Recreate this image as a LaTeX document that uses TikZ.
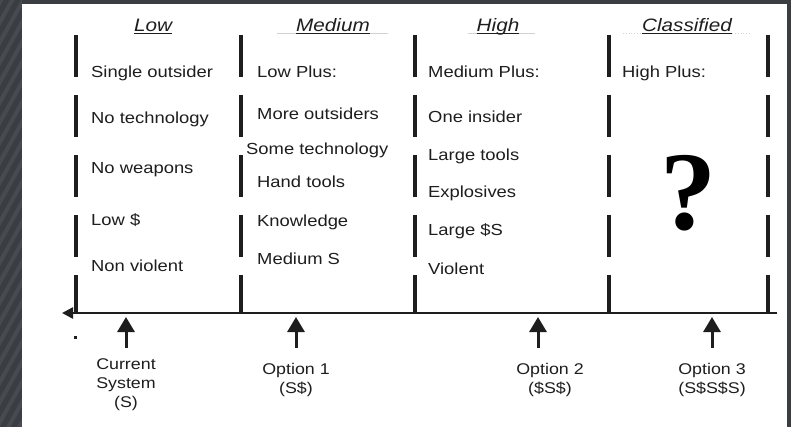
\documentclass[tikz,border=0pt]{standalone}
\usepackage{fontspec}
\setmainfont{Liberation Sans}
\newfontfamily\scanfont[FakeStretch=1.15]{Liberation Sans}
\newfontfamily\qfont{Liberation Serif}
\usetikzlibrary{arrows.meta}
\definecolor{frame}{RGB}{58, 61, 66}
\definecolor{ink}{RGB}{30, 30, 30}

\begin{document}
\begin{tikzpicture}[x=1pt, y=-1pt,
  item/.style={anchor=west, inner sep=0pt, text=ink, text height=11.5pt, text depth=3.5pt,
    font=\scanfont\fontsize{16}{18}\selectfont},
  head/.style={inner sep=0pt, text=ink, text height=12.5pt, text depth=0pt,
    font=\scanfont\itshape\fontsize{18}{20}\selectfont},
  optlabel/.style={align=center, inner sep=0pt, text=ink, font=\scanfont\fontsize{15.5}{19}\selectfont},
  divider/.style={line width=4.5pt, ink, dash pattern=on 42pt off 18pt},
  pointer/.style={line width=3pt, ink, -{Triangle[length=15pt, width=17pt]}}]
  \useasboundingbox (0,0) rectangle (791,427);

  % dark frame
  \fill[frame] (0,0) rectangle (791,427);
  \begin{scope}
    \clip (0,0) rectangle (22,427);
    \foreach \k in {-40,-20,...,520}
      \draw[white, opacity=0.07, line width=4pt] (-10,\k) -- (40,\k-90);
  \end{scope}
  \fill[white] (22,4) rectangle (787,427);

  % column dividers
  \foreach \x in {76, 241, 415, 609, 768}
    \draw[divider] (\x,35) -- (\x,313);

  % headings
  \draw[gray!35, line width=0.8pt] (277,33) -- (388,33);
  \draw[gray!35, line width=0.8pt] (468,33) -- (535,33);
  \draw[gray!35, line width=0.8pt, dotted] (623,33) -- (750,33);
  \node[head] (hlow) at (153,25) {Low};
  \node[head] (hmed) at (333,25) {Medium};
  \node[head] (hhigh) at (498,25) {High};
  \node[head] (hcls) at (687,25) {Classified};
  \foreach \h in {hlow, hmed, hhigh, hcls}
    \draw[ink, line width=1.3pt] ([yshift=-2pt]\h.south west) -- ([yshift=-2pt]\h.south east);

  % Low
  \node[item] (low1) at (91,74) {Single outsider};
  \node[item] (low2) at (91,120) {No technology};
  \node[item] (low3) at (91,170) {No weapons};
  \node[item] (low4) at (91,222) {Low \$};
  \node[item] (low5) at (91,268) {Non violent};

  % Medium
  \node[item] (med1) at (257,74) {Low Plus:};
  \node[item] (med2) at (257,116) {More outsiders};
  \node[item] (med3) at (246,151) {Some technology};
  \node[item] (med4) at (257,184) {Hand tools};
  \node[item] (med5) at (257,223) {Knowledge};
  \node[item] (med6) at (257,261) {Medium S};

  % High
  \node[item] (high1) at (428,74) {Medium Plus:};
  \node[item] (high2) at (428,119) {One insider};
  \node[item] (high3) at (428,157) {Large tools};
  \node[item] (high4) at (428,194) {Explosives};
  \node[item] (high5) at (428,232) {Large \$S};
  \node[item] (high6) at (428,270) {Violent};

  % Classified
  \node[item] (cls1) at (622,74) {High Plus:};
  \node[anchor=base, inner sep=0pt, text=black, font=\qfont\bfseries\fontsize{112}{112}\selectfont]
    (qmark) at (688,230) {?};

  % scale axis
  \coordinate (axR) at (777,313);
  \coordinate (axL) at (62,313);
  \draw[line width=2.5pt, ink, -{Triangle[length=11pt, width=11pt]}] (axR) -- (axL);
  \fill[ink] (74,336) rectangle (77,339);

  % options
  \node[optlabel] (cur) at (126,385) {Current\\System\\(S)};
  \node[optlabel] (opt1) at (296,380) {Option 1\\(S\$)};
  \node[optlabel] (opt2) at (550,380) {Option 2\\(\$S\$)};
  \node[optlabel] (opt3) at (712,380) {Option 3\\(S\$S\$S)};

  \coordinate (p0) at (126,317);  \coordinate (p0b) at (126,348);
  \coordinate (p1) at (296,317);  \coordinate (p1b) at (296,348);
  \coordinate (p2) at (538,317);  \coordinate (p2b) at (538,348);
  \coordinate (p3) at (712,317);  \coordinate (p3b) at (712,348);
  \foreach \p in {p0, p1, p2, p3}
    \draw[pointer] (\p b) -- (\p);

\end{tikzpicture}
\end{document}
